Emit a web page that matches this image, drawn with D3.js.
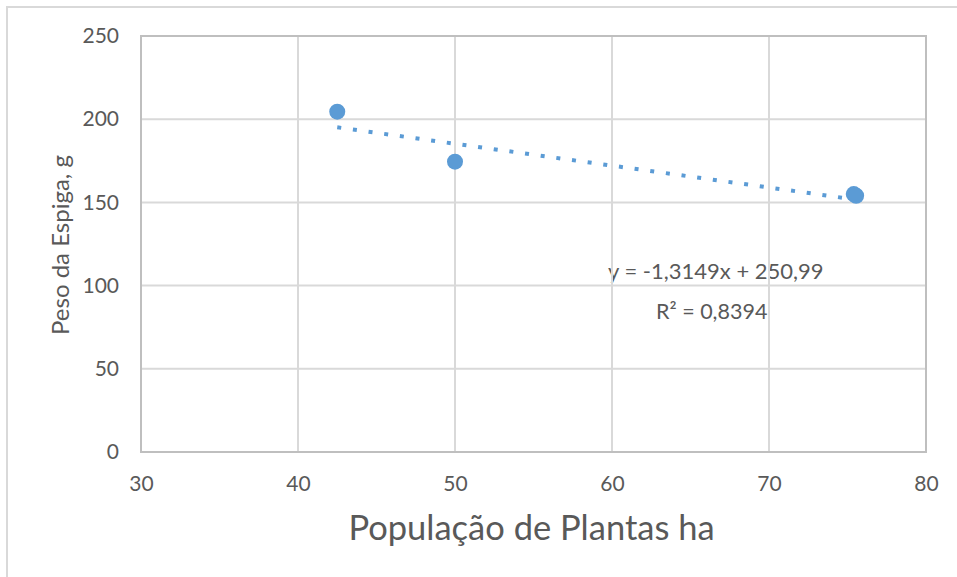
<!DOCTYPE html>
<html>
<head>
<meta charset="utf-8">
<script src="https://cdn.jsdelivr.net/npm/d3@7"></script>
<style>
  body { margin: 0; background: #fff; }
  text { font-family: Lato, "Open Sans", sans-serif; fill: #595959; }
</style>
</head>
<body>
<div id="chart"></div>
<script>
// data
const populacao = [42.5, 50, 75.4, 75.55];
const pesoEspiga = [204.5, 174.5, 155, 154];
const xTicks = [30, 40, 50, 60, 70, 80];
const yTicks = [0, 50, 100, 150, 200, 250];
const slope = -1.3149;
const intercept = 250.99;
const eqLabel = "y = -1,3149x + 250,99";
const r2Label = "R² = 0,8394";

const W = 957, H = 577;
const margin = {top: 36, right: 31, bottom: 125, left: 141};
const width = W - margin.left - margin.right;
const height = H - margin.top - margin.bottom;

const svg = d3.select("#chart").append("svg")
  .attr("width", W)
  .attr("height", H);

// outer chart frame (cut off by the window at right/bottom)
svg.append("rect")
  .attr("x", 7).attr("y", 7)
  .attr("width", W).attr("height", H)
  .attr("fill", "none")
  .attr("stroke", "#d9d9d9")
  .attr("stroke-width", 2);

const g = svg.append("g")
  .attr("transform", "translate(" + margin.left + "," + margin.top + ")");

const x = d3.scaleLinear().domain([30, 80]).range([0, width]);
const y = d3.scaleLinear().domain([0, 250]).range([height, 0]);

// trendline + labels first, the gridlines sit over the text like in the source
const tl = d3.line().x(d => x(d)).y(d => y(slope * d + intercept));
g.append("path")
  .datum([42.5, 75.5])
  .attr("d", tl)
  .attr("fill", "none")
  .attr("stroke", "#5b9bd5")
  .attr("stroke-width", 4)
  .attr("stroke-dasharray", "4 11.8");

g.append("text")
  .attr("x", x(60) - 4).attr("y", y(100) - 7)
  .attr("font-size", 22)
  .text(eqLabel);
g.append("text")
  .attr("x", x(60) + 44).attr("y", y(100) + 33)
  .attr("font-size", 21.5)
  .text(r2Label);

// gridlines
g.append("g").selectAll("line")
  .data(xTicks.slice(1, -1))
  .join("line")
  .attr("x1", d => x(d)).attr("x2", d => x(d))
  .attr("y1", 0).attr("y2", height)
  .attr("stroke", "#d9d9d9").attr("stroke-width", 2);

g.append("g").selectAll("line")
  .data(yTicks.slice(1, -1))
  .join("line")
  .attr("x1", 0).attr("x2", width)
  .attr("y1", d => y(d)).attr("y2", d => y(d))
  .attr("stroke", "#d9d9d9").attr("stroke-width", 2);

// plot frame
g.append("rect")
  .attr("width", width).attr("height", height)
  .attr("fill", "none")
  .attr("stroke", "#bfbfbf")
  .attr("stroke-width", 2);

// points
g.append("g").selectAll("circle")
  .data(populacao.map((p, i) => [p, pesoEspiga[i]]))
  .join("circle")
  .attr("cx", d => x(d[0]))
  .attr("cy", d => y(d[1]))
  .attr("r", 8)
  .attr("fill", "#5b9bd5");

// axes
const xAxis = d3.axisBottom(x).tickValues(xTicks).tickSize(0).tickPadding(24);
const yAxis = d3.axisLeft(y).tickValues(yTicks).tickSize(0).tickPadding(22);

g.append("g")
  .attr("transform", "translate(0," + height + ")")
  .call(xAxis)
  .call(a => a.select(".domain").remove())
  .selectAll("text")
  .attr("font-size", 21)
  .style("font-family", "Lato, sans-serif")
  .attr("fill", "#595959");

g.append("g")
  .call(yAxis)
  .call(a => a.select(".domain").remove())
  .selectAll("text")
  .attr("font-size", 21)
  .style("font-family", "Lato, sans-serif")
  .attr("fill", "#595959");

// axis titles
svg.append("text")
  .attr("x", margin.left + width / 2 - 2)
  .attr("y", 540)
  .attr("text-anchor", "middle")
  .attr("font-size", 34.5)
  .text("População de Plantas ha");

svg.append("text")
  .attr("transform", "translate(69," + (margin.top + height / 2 + 1) + ") rotate(-90)")
  .attr("text-anchor", "middle")
  .attr("font-size", 24)
  .text("Peso da Espiga, g");
</script>
</body>
</html>
